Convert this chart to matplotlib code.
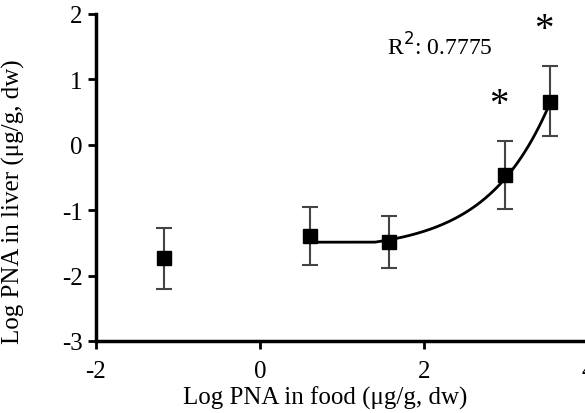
import numpy as np
import matplotlib
matplotlib.use("Agg")
import matplotlib.pyplot as plt

plt.rcParams['font.family'] = ['Liberation Serif', 'DejaVu Serif']
plt.rcParams['axes.unicode_minus'] = False

# Datos
log_food = [-1.17, 0.61, 1.58, 2.99, 3.54]
log_liver = [-1.73, -1.39, -1.49, -0.47, 0.65]
err_up = [0.46, 0.44, 0.40, 0.53, 0.56]
err_down = [0.47, 0.45, 0.40, 0.52, 0.52]

# Parámetros de la curva ajustada (meseta + crecimiento exponencial)
fit_x_start = 0.61
fit_x_end = 3.54
plateau = -1.49
x0 = 1.4
amp = 0.141
rate = 1.3

r2_text = "R$^{2}$: 0.7775"
signif_idx = [3, 4]

fig = plt.figure(figsize=(5.85, 4.14), dpi=100)
ax = fig.add_axes([0.164, 0.174, 0.841, 0.79])

xx = np.linspace(fit_x_start, fit_x_end, 200)
yy = np.where(xx < x0, plateau, plateau + amp * (np.exp(rate * (xx - x0)) - 1))
ax.plot(xx, yy, color='black', lw=2, zorder=2)

ax.errorbar(log_food, log_liver, yerr=[err_down, err_up], fmt='s', color='black',
            ms=10, ecolor='#444444', elinewidth=1.5, capsize=6, capthick=1.5, zorder=3)

for i in signif_idx:
    ax.text(log_food[i] - 0.08, log_liver[i] + err_up[i] + 0.55, "*",
            fontsize=28, ha='center', va='center')

ax.text(1.55, 1.51, r2_text, fontsize=17, ha='left', va='center')

ax.set_xlim(-2, 4)
ax.set_ylim(-3, 2)
ax.set_xticks([-2, 0, 2, 4])
ax.set_yticks([-3, -2, -1, 0, 1, 2])
ax.spines['top'].set_visible(False)
ax.spines['right'].set_visible(False)
for s in ['left', 'bottom']:
    ax.spines[s].set_linewidth(2.5)
ax.tick_params(width=2, length=6, labelsize=18, direction='out')
ax.tick_params(axis='x', pad=8)
ax.set_xlabel("Log PNA in food (μg/g, dw)", fontsize=18)
ax.set_ylabel("Log PNA in liver (μg/g, dw)", fontsize=18)
ax.xaxis.set_label_coords(0.465, -0.135)
ax.yaxis.set_label_coords(-0.145, 0.43)

fig.savefig("out.png", dpi=100)
